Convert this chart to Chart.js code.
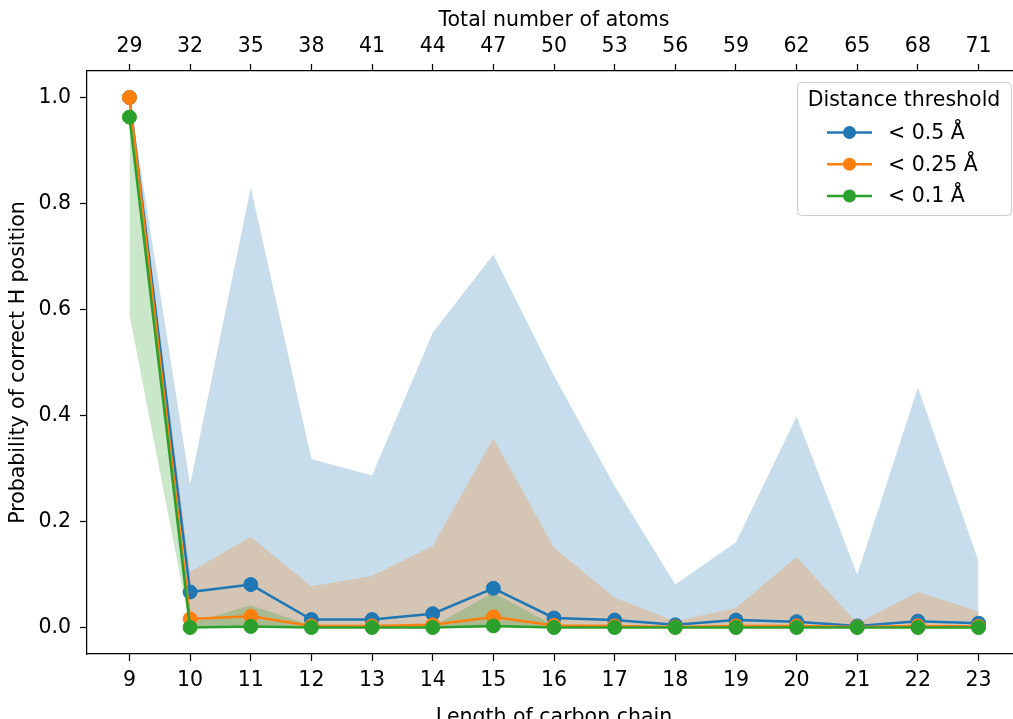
<!DOCTYPE html>
<html>
<head>
<meta charset="utf-8">
<script src="https://cdn.jsdelivr.net/npm/chart.js@4/dist/chart.umd.min.js"></script>
<style>
  html, body { margin: 0; padding: 0; background: #fff; overflow: hidden; }
  #wrap { width: 1013px; height: 719px; position: relative; overflow: hidden; }
  #myChart { display: block; }
</style>
</head>
<body>
<div id="wrap"><canvas id="myChart" width="1021" height="719"></canvas></div>
<script>
// chain length (bottom axis) and total number of atoms (top axis)
var chainLength = [9, 10, 11, 12, 13, 14, 15, 16, 17, 18, 19, 20, 21, 22, 23];
var atomCount = [29, 32, 35, 38, 41, 44, 47, 50, 53, 56, 59, 62, 65, 68, 71];
var yTicks = [0, 0.2, 0.4, 0.6, 0.8, 1.0];

var seriesLabels = ["< 0.5 Å", "< 0.25 Å", "< 0.1 Å"];

// < 0.5 A
var meanA = [1.0, 0.067, 0.081, 0.015, 0.015, 0.026, 0.074, 0.018, 0.014, 0.005, 0.014, 0.011, 0.003, 0.012, 0.008];
var upperA = [1.0, 0.27, 0.83, 0.318, 0.287, 0.556, 0.704, 0.475, 0.267, 0.081, 0.161, 0.398, 0.100, 0.453, 0.125];
var lowerA = [0.96, 0, 0, 0, 0, 0, 0, 0, 0, 0, 0, 0, 0, 0, 0];

// < 0.25 A
var meanB = [1.0, 0.016, 0.021, 0.003, 0.003, 0.005, 0.020, 0.004, 0.003, 0.001, 0.003, 0.003, 0.001, 0.003, 0.002];
var upperB = [1.0, 0.105, 0.171, 0.078, 0.097, 0.154, 0.357, 0.151, 0.056, 0.012, 0.037, 0.133, 0.008, 0.067, 0.030];
var lowerB = [1.0, 0, 0, 0, 0, 0, 0, 0, 0, 0, 0, 0, 0, 0, 0];

// < 0.1 A
var meanC = [0.963, 0, 0.002, 0, 0, 0, 0.003, 0, 0, 0, 0, 0, 0, 0, 0];
var upperC = [0.965, 0.008, 0.042, 0.004, 0.002, 0.002, 0.066, 0.004, 0.002, 0.001, 0.001, 0.001, 0.001, 0.001, 0.001];
var lowerC = [0.59, 0, 0, 0, 0, 0, 0, 0, 0, 0, 0, 0, 0, 0, 0];

var colors = ["#1f77b4", "#ff7f0e", "#2ca02c"];
var bandColors = ["rgba(31,119,180,0.25)", "rgba(255,127,14,0.25)", "rgba(44,160,44,0.25)"];

var FONT = "'DejaVu Sans', sans-serif";
var FS = 20.5;

function pts(arr) {
    return arr.map(function (v, i) { return { x: chainLength[i], y: v }; });
}

function band(arr, color, fill, order) {
    return {
        data: pts(arr),
        borderWidth: 0,
        borderColor: "rgba(0,0,0,0)",
        backgroundColor: color,
        pointRadius: 0,
        fill: fill,
        order: order,
        tension: 0
    };
}

function line(arr, idx, order) {
    return {
        label: seriesLabels[idx],
        data: pts(arr),
        borderColor: colors[idx],
        backgroundColor: colors[idx],
        borderWidth: 2.5,
        pointRadius: 7,
        pointBorderWidth: 1,
        pointBackgroundColor: colors[idx],
        pointBorderColor: colors[idx],
        fill: false,
        order: order,
        tension: 0
    };
}

// matplotlib-style legend box in the upper right corner of the axes
var legendBox = {
    id: "legendBox",
    afterDraw: function (chart) {
        var ctx = chart.ctx;
        var ca = chart.chartArea;
        var w = 214, h = 133;
        var x0 = ca.right - 10 - w, y0 = ca.top + 11;
        ctx.save();
        ctx.beginPath();
        ctx.roundRect(x0 + 0.5, y0 + 0.5, w, h, 4);
        ctx.fillStyle = "rgba(255,255,255,0.8)";
        ctx.fill();
        ctx.strokeStyle = "#cccccc";
        ctx.lineWidth = 1;
        ctx.stroke();

        ctx.fillStyle = "#000";
        ctx.font = FS + "px " + FONT;
        ctx.textBaseline = "middle";
        ctx.textAlign = "center";
        ctx.fillText("Distance threshold", x0 + w / 2, y0 + 19);

        ctx.textAlign = "left";
        for (var i = 0; i < 3; i++) {
            var yy = y0 + 50.5 + i * 31.7;
            ctx.strokeStyle = colors[i];
            ctx.lineWidth = 2.5;
            ctx.beginPath();
            ctx.moveTo(x0 + 30, yy);
            ctx.lineTo(x0 + 75, yy);
            ctx.stroke();
            ctx.fillStyle = colors[i];
            ctx.beginPath();
            ctx.arc(x0 + 52.5, yy, 6.5, 0, Math.PI * 2);
            ctx.fill();
            ctx.fillStyle = "#000";
            ctx.fillText(seriesLabels[i], x0 + 91, yy + 1);
        }
        ctx.restore();
    }
};

function axisCommon(extra) {
    var base = {
        type: "linear",
        grid: {
            drawOnChartArea: false,
            drawTicks: true,
            tickLength: 7,
            tickWidth: 1.25,
            tickColor: "#000"
        },
        border: { display: true, color: "#000", width: 1.25 },
        ticks: {
            color: "#000",
            font: { family: FONT, size: FS },
            autoSkip: false,
            maxRotation: 0
        }
    };
    return Object.assign(base, extra);
}

window.onload = main;

function main() {
    var ctx = document.getElementById("myChart").getContext("2d");
    new Chart(ctx, {
        type: "line",
        data: {
            datasets: [
                band(upperA, bandColors[0], "+1", 7),
                band(lowerA, bandColors[0], false, 8),
                band(upperB, bandColors[1], "+1", 5),
                band(lowerB, bandColors[1], false, 6),
                band(upperC, bandColors[2], "+1", 3),
                band(lowerC, bandColors[2], false, 4),
                line(meanA, 0, 2),
                line(meanB, 1, 1),
                line(meanC, 2, 0)
            ]
        },
        options: {
            responsive: false,
            animation: false,
            events: [],
            layout: { padding: 0, autoPadding: false },
            plugins: {
                legend: { display: false },
                tooltip: { enabled: false },
                filler: { drawTime: "beforeDatasetsDraw" }
            },
            scales: {
                x: axisCommon({
                    position: "bottom",
                    min: 8.3,
                    max: 23.7,
                    afterBuildTicks: function (s) {
                        s.ticks = chainLength.map(function (v) { return { value: v }; });
                    },
                    afterFit: function (s) { s.height = 65; },
                    title: {
                        display: true,
                        text: "Length of carbon chain",
                        color: "#000",
                        font: { family: FONT, size: FS },
                        padding: { top: 0, bottom: -10.5 }
                    }
                }),
                x2: axisCommon({
                    position: "top",
                    min: 8.3,
                    max: 23.7,
                    afterBuildTicks: function (s) {
                        s.ticks = chainLength.map(function (v) { return { value: v }; });
                    },
                    afterFit: function (s) { s.height = 71; },
                    title: {
                        display: true,
                        text: "Total number of atoms",
                        color: "#000",
                        font: { family: FONT, size: FS },
                        padding: { top: 8.5, bottom: 0 }
                    }
                }),
                y: axisCommon({
                    position: "left",
                    min: -0.05,
                    max: 1.05,
                    afterBuildTicks: function (s) {
                        s.ticks = yTicks.map(function (v) { return { value: v }; });
                    },
                    afterFit: function (s) { s.width = 87; },
                    title: {
                        display: true,
                        text: "Probability of correct H position",
                        color: "#000",
                        font: { family: FONT, size: FS },
                        padding: { top: 6, bottom: 0 }
                    }
                })
            }
        },
        plugins: [legendBox]
    });

    // tick label formats
    var chart = Chart.getChart(ctx);
    chart.options.scales.x.ticks.callback = function (v) { return String(v); };
    chart.options.scales.x2.ticks.callback = function (v) { return String(atomCount[chainLength.indexOf(v)]); };
    chart.options.scales.y.ticks.callback = function (v) { return v.toFixed(1); };
    chart.options.scales.x.ticks.padding = 7;
    chart.options.scales.x2.ticks.padding = 5;
    chart.options.scales.y.ticks.padding = 9;
    chart.update();
}
</script>
</body>
</html>
